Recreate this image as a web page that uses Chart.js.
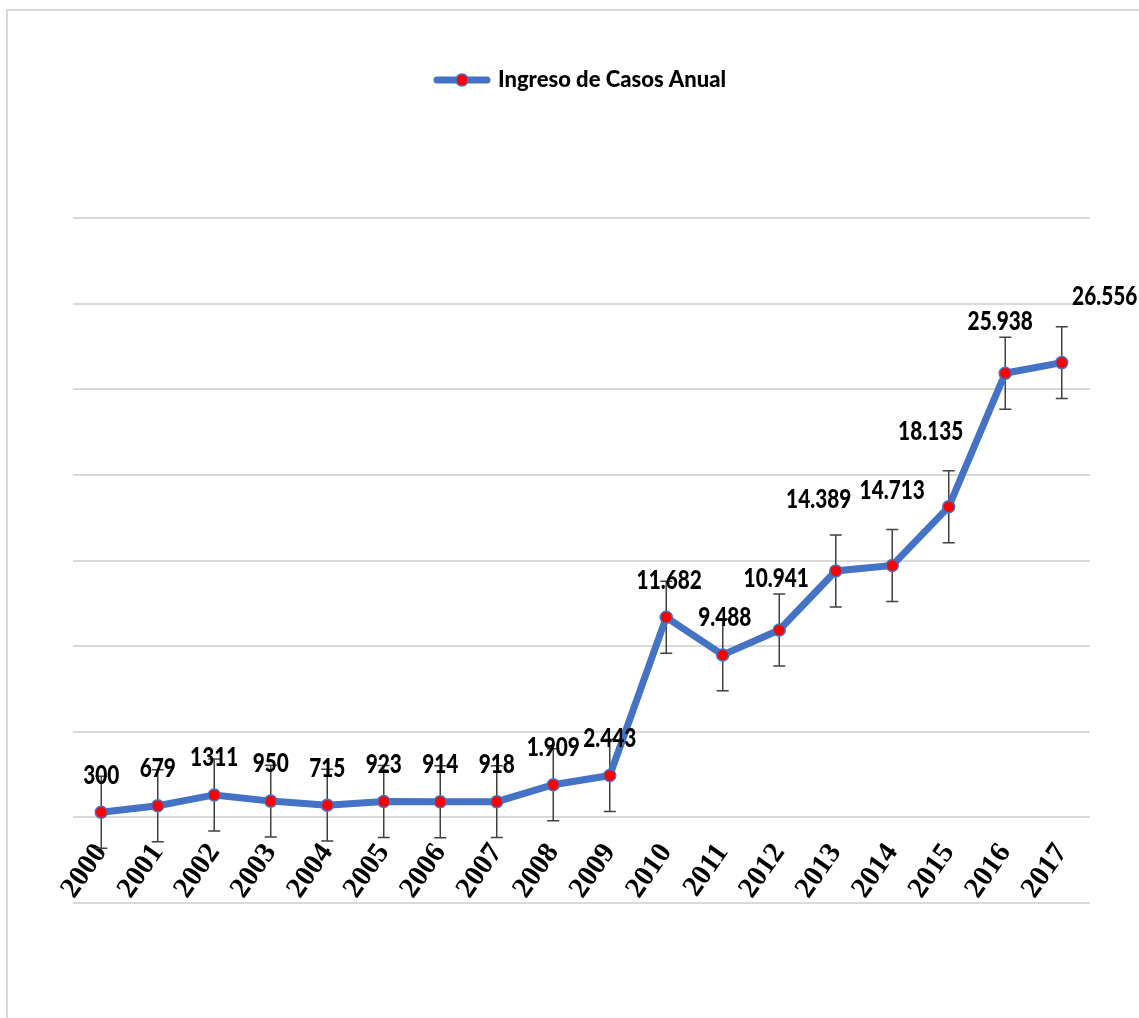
<!DOCTYPE html>
<html>
<head>
<meta charset="utf-8">
<script src="https://cdn.jsdelivr.net/npm/chart.js@4.4.0/dist/chart.umd.min.js"></script>
<style>
html, body { margin: 0; padding: 0; background: #fff; overflow: hidden; }
#frame { position: absolute; left: 6px; top: 9px; width: 1200px; height: 1100px; border: 2px solid #d9d9d9; box-sizing: border-box; }
#wrap { position: absolute; left: 0; top: 0; width: 1139px; height: 1018px; }
</style>
</head>
<body>
<div id="frame"></div>
<div id="wrap"><canvas id="myChart"></canvas></div>
<script>
const years = ['2000', '2001', '2002', '2003', '2004', '2005', '2006', '2007', '2008',
               '2009', '2010', '2011', '2012', '2013', '2014', '2015', '2016', '2017'];
const casos = [300, 679, 1311, 950, 715, 923, 914, 918, 1909,
               2443, 11682, 9488, 10941, 14389, 14713, 18135, 25938, 26556];
const casosText = ['300', '679', '1311', '950', '715', '923', '914', '918', '1.909',
                   '2.443', '11.682', '9.488', '10.941', '14.389', '14.713', '18.135', '25.938', '26.556'];
const errorMargin = 2100;
const seriesName = 'Ingreso de Casos Anual';

// labels that were dragged by hand in the original: [dx, dy] from the default spot
const labelNudge = { 10: [3, 0], 11: [2, 0], 12: [-3, -14], 13: [-17, -34], 14: [0, -38],
                     15: [-18, -38], 16: [-5, -15], 17: [43, -29] };

const BLUE = '#4472C4';
const RED = '#FF0000';

// legend marker: thick line with a dot
const legendIcon = document.createElement('canvas');
legendIcon.width = 58;
legendIcon.height = 16;
const g = legendIcon.getContext('2d');
g.strokeStyle = BLUE;
g.lineWidth = 7;
g.lineCap = 'round';
g.beginPath(); g.moveTo(4, 8); g.lineTo(54, 8); g.stroke();
g.beginPath(); g.arc(29, 8, 6, 0, Math.PI * 2);
g.fillStyle = RED; g.fill();
g.lineWidth = 1.5; g.stroke();

const errorBars = {
    id: 'errorBars',
    beforeDatasetsDraw(chart) {
        const { ctx, scales: { x, y } } = chart;
        ctx.save();
        ctx.strokeStyle = '#404040';
        ctx.lineWidth = 1.5;
        casos.forEach((v, i) => {
            const px = x.getPixelForValue(i);
            const top = y.getPixelForValue(v + errorMargin);
            const bot = y.getPixelForValue(v - errorMargin);
            ctx.beginPath();
            ctx.moveTo(px, top); ctx.lineTo(px, bot);
            ctx.moveTo(px - 6, top); ctx.lineTo(px + 6, top);
            ctx.moveTo(px - 6, bot); ctx.lineTo(px + 6, bot);
            ctx.stroke();
        });
        ctx.restore();
    }
};

// bold condensed value labels (squeezed horizontally like the original)
const valueLabels = {
    id: 'valueLabels',
    afterDatasetsDraw(chart) {
        const { ctx } = chart;
        const pts = chart.getDatasetMeta(0).data;
        const sx = 0.8;
        ctx.save();
        ctx.font = "900 26px Lato, 'DejaVu Sans Condensed', sans-serif";
        ctx.fillStyle = '#000';
        ctx.textAlign = 'center';
        ctx.textBaseline = 'middle';
        pts.forEach((p, i) => {
            const n = labelNudge[i] || [0, 0];
            ctx.save();
            ctx.translate(p.x + n[0], p.y - 37 + n[1]);
            ctx.scale(sx, 1);
            ctx.fillText(casosText[i], 0, 0);
            ctx.restore();
        });
        ctx.restore();
    }
};

const legendGap = {
    id: 'legendGap',
    beforeInit(chart) {
        const fit = chart.legend.fit;
        chart.legend.fit = function () {
            fit.call(this);
            this.height += 117;
        };
    }
};

new Chart(document.getElementById('myChart').getContext('2d'), {
    type: 'line',
    data: {
        labels: years,
        datasets: [{
            label: seriesName,
            data: casos,
            borderColor: BLUE,
            borderWidth: 7,
            backgroundColor: RED,
            pointBackgroundColor: RED,
            pointBorderColor: BLUE,
            pointBorderWidth: 1.5,
            pointRadius: 6,
            tension: 0,
            fill: false
        }]
    },
    options: {
        responsive: true,
        maintainAspectRatio: false,
        animation: false,
        layout: { padding: { top: 59, left: 73, right: 49, bottom: 115 } },
        scales: {
            x: {
                position: { y: 0 },
                offset: true,
                grid: { display: false },
                border: { display: false },
                ticks: {
                    autoSkip: false,
                    minRotation: 55,
                    maxRotation: 55,
                    padding: 12,
                    color: '#000',
                    font: { family: "'Liberation Serif', 'DejaVu Serif', serif", weight: 'bold', size: 29 }
                }
            },
            y: {
                min: -5000,
                max: 35000,
                ticks: { display: false, stepSize: 5000 },
                grid: { color: '#d9d9d9', lineWidth: 2, drawTicks: false },
                border: { display: false }
            }
        },
        plugins: {
            tooltip: { enabled: false },
            legend: {
                position: 'top',
                labels: {
                    usePointStyle: true,
                    pointStyleWidth: 50,
                    color: '#000',
                    font: { family: "Lato, 'DejaVu Sans Condensed', sans-serif", weight: 900, size: 22 },
                    generateLabels(chart) {
                        const items = Chart.defaults.plugins.legend.labels.generateLabels(chart);
                        items.forEach(it => { it.pointStyle = legendIcon; });
                        return items;
                    }
                }
            }
        }
    },
    plugins: [errorBars, valueLabels, legendGap]
});
</script>
</body>
</html>
